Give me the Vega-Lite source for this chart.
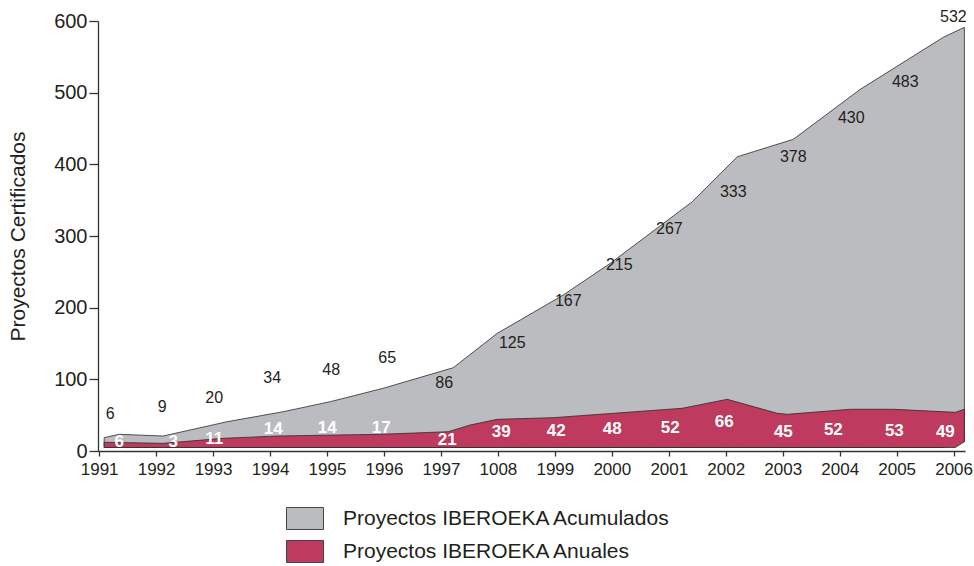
{
  "$schema": "https://vega.github.io/schema/vega-lite/v6.json",
  "width": 867,
  "height": 430,
  "autosize": {"type": "none"},
  "padding": {"left": 98, "top": 21, "right": 9, "bottom": 115},
  "background": "white",
  "config": {
    "view": {"stroke": null},
    "font": "Liberation Sans",
    "axis": {"labelFont": "Liberation Sans", "titleFont": "Liberation Sans", "labelColor": "#231f20", "titleColor": "#231f20", "domainColor": "#333333", "tickColor": "#333333", "grid": false}
  },
  "datasets": {
    "areas": [
      {"serie": "Proyectos IBEROEKA Acumulados", "year": 1991.088, "top": 18.6, "base": 4.9},
      {"serie": "Proyectos IBEROEKA Acumulados", "year": 1991.351, "top": 23.3, "base": 4.9},
      {"serie": "Proyectos IBEROEKA Acumulados", "year": 1992.124, "top": 20.9, "base": 4.9},
      {"serie": "Proyectos IBEROEKA Acumulados", "year": 1993.248, "top": 40.9, "base": 4.9},
      {"serie": "Proyectos IBEROEKA Acumulados", "year": 1994.231, "top": 54.8, "base": 4.9},
      {"serie": "Proyectos IBEROEKA Acumulados", "year": 1995.056, "top": 68.8, "base": 4.9},
      {"serie": "Proyectos IBEROEKA Acumulados", "year": 1995.987, "top": 87.5, "base": 4.9},
      {"serie": "Proyectos IBEROEKA Acumulados", "year": 1997.216, "top": 116.2, "base": 4.9},
      {"serie": "Proyectos IBEROEKA Acumulados", "year": 1997.989, "top": 164.2, "base": 4.9},
      {"serie": "Proyectos IBEROEKA Acumulados", "year": 1998.393, "top": 182.8, "base": 4.9},
      {"serie": "Proyectos IBEROEKA Acumulados", "year": 1999.148, "top": 217.7, "base": 4.9},
      {"serie": "Proyectos IBEROEKA Acumulados", "year": 1999.973, "top": 261.9, "base": 4.9},
      {"serie": "Proyectos IBEROEKA Acumulados", "year": 2000.675, "top": 303.8, "base": 4.9},
      {"serie": "Proyectos IBEROEKA Acumulados", "year": 2001.413, "top": 347.9, "base": 4.9},
      {"serie": "Proyectos IBEROEKA Acumulados", "year": 2002.203, "top": 410.6, "base": 4.9},
      {"serie": "Proyectos IBEROEKA Acumulados", "year": 2003.186, "top": 434.9, "base": 4.9},
      {"serie": "Proyectos IBEROEKA Acumulados", "year": 2004.362, "top": 504.7, "base": 4.9},
      {"serie": "Proyectos IBEROEKA Acumulados", "year": 2005.82, "top": 577.3, "base": 4.9},
      {"serie": "Proyectos IBEROEKA Acumulados", "year": 2006.189, "top": 591.2, "base": 13},
      {"serie": "Proyectos IBEROEKA Anuales", "year": 1991.088, "top": 12.1, "base": 4.9},
      {"serie": "Proyectos IBEROEKA Anuales", "year": 1992.124, "top": 10.7, "base": 4.9},
      {"serie": "Proyectos IBEROEKA Anuales", "year": 1993.177, "top": 17.7, "base": 4.9},
      {"serie": "Proyectos IBEROEKA Anuales", "year": 1994.126, "top": 20.9, "base": 4.9},
      {"serie": "Proyectos IBEROEKA Anuales", "year": 1995.934, "top": 23.3, "base": 4.9},
      {"serie": "Proyectos IBEROEKA Anuales", "year": 1997.128, "top": 26.9, "base": 4.9},
      {"serie": "Proyectos IBEROEKA Anuales", "year": 1997.514, "top": 36.3, "base": 4.9},
      {"serie": "Proyectos IBEROEKA Anuales", "year": 1997.989, "top": 44.2, "base": 4.9},
      {"serie": "Proyectos IBEROEKA Anuales", "year": 1998.972, "top": 46.5, "base": 4.9},
      {"serie": "Proyectos IBEROEKA Anuales", "year": 2001.237, "top": 59.6, "base": 4.9},
      {"serie": "Proyectos IBEROEKA Anuales", "year": 2002.027, "top": 72.1, "base": 4.9},
      {"serie": "Proyectos IBEROEKA Anuales", "year": 2002.905, "top": 52.6, "base": 4.9},
      {"serie": "Proyectos IBEROEKA Anuales", "year": 2003.081, "top": 51.2, "base": 4.9},
      {"serie": "Proyectos IBEROEKA Anuales", "year": 2004.187, "top": 58.2, "base": 4.9},
      {"serie": "Proyectos IBEROEKA Anuales", "year": 2004.942, "top": 58.2, "base": 4.9},
      {"serie": "Proyectos IBEROEKA Anuales", "year": 2006.03, "top": 54.0, "base": 4.9},
      {"serie": "Proyectos IBEROEKA Anuales", "year": 2006.189, "top": 58.2, "base": 13}
    ],
    "darkLabels": [
      {"year": 1991.193, "pos": 51.6, "label": "6"},
      {"year": 1992.106, "pos": 61.4, "label": "9"},
      {"year": 1993.019, "pos": 73.9, "label": "20"},
      {"year": 1994.038, "pos": 101.8, "label": "34"},
      {"year": 1995.074, "pos": 113.0, "label": "48"},
      {"year": 1996.057, "pos": 129.8, "label": "65"},
      {"year": 1997.058, "pos": 94.9, "label": "86"},
      {"year": 1998.252, "pos": 150.7, "label": "125"},
      {"year": 1999.235, "pos": 209.3, "label": "167"},
      {"year": 2000.131, "pos": 259.5, "label": "215"},
      {"year": 2001.011, "pos": 309.8, "label": "267"},
      {"year": 2002.132, "pos": 361.4, "label": "333"},
      {"year": 2003.186, "pos": 410.2, "label": "378"},
      {"year": 2004.204, "pos": 464.6, "label": "430"},
      {"year": 2005.152, "pos": 514.9, "label": "483"},
      {"year": 2005.995, "pos": 605.6, "label": "532"}
    ],
    "whiteLabels": [
      {"year": 1991.351, "pos": 12.6, "label": "6"},
      {"year": 1992.299, "pos": 12.6, "label": "3"},
      {"year": 1993.019, "pos": 16.7, "label": "11"},
      {"year": 1994.055, "pos": 30.7, "label": "14"},
      {"year": 1995.004, "pos": 32.1, "label": "14"},
      {"year": 1995.952, "pos": 32.1, "label": "17"},
      {"year": 1997.111, "pos": 15.3, "label": "21"},
      {"year": 1998.059, "pos": 26.5, "label": "39"},
      {"year": 1999.025, "pos": 27.9, "label": "42"},
      {"year": 2000.008, "pos": 30.7, "label": "48"},
      {"year": 2001.027, "pos": 32.1, "label": "52"},
      {"year": 2001.975, "pos": 40.5, "label": "66"},
      {"year": 2003.011, "pos": 26.5, "label": "45"},
      {"year": 2003.889, "pos": 29.3, "label": "52"},
      {"year": 2004.96, "pos": 27.9, "label": "53"},
      {"year": 2005.855, "pos": 26.5, "label": "49"}
    ]
  },
  "layer": [
    {
      "data": {"name": "areas"},
      "mark": {"type": "area", "stroke": "#2b2b2b", "strokeWidth": 0.8, "opacity": 1, "interpolate": "linear"},
      "encoding": {
        "x": {
          "field": "year", "type": "quantitative",
          "scale": {"domain": [1990.98, 2006.2], "nice": false, "zero": false},
          "axis": {
            "title": null,
            "values": [1991, 1992, 1993, 1994, 1995, 1996, 1997, 1998, 1999, 2000, 2001, 2002, 2003, 2004, 2005, 2006],
            "format": "d",
            "labelExpr": "datum.value == 1998 ? '1008' : datum.label",
            "labelFontSize": 17,
            "tickSize": 5,
            "labelPadding": 5,
            "domainWidth": 1.3,
            "tickWidth": 1.3,
            "labelFlush": false,
            "labelOverlap": false
          }
        },
        "y": {
          "field": "top", "type": "quantitative", "stack": null,
          "scale": {"domain": [0, 600], "nice": false},
          "axis": {
            "title": "Proyectos Certificados",
            "titleFontSize": 21,
            "titleFontWeight": "normal",
            "titlePadding": 25,
            "values": [0, 100, 200, 300, 400, 500, 600],
            "labelFontSize": 20,
            "tickSize": 9,
            "labelPadding": 2,
            "domainWidth": 1.3,
            "tickWidth": 1.3
          }
        },
        "y2": {"field": "base"},
        "color": {
          "field": "serie", "type": "nominal",
          "scale": {"domain": ["Proyectos IBEROEKA Acumulados", "Proyectos IBEROEKA Anuales"], "range": ["#bbbcc0", "#be3a5e"]},
          "legend": {
            "title": null,
            "orient": "none",
            "legendX": 188,
            "legendY": 478.5,
            "direction": "vertical",
            "padding": 0,
            "symbolType": "M-1,-0.595H1V0.595H-1Z",
            "symbolSize": 1369,
            "symbolStrokeColor": "#444444",
            "symbolStrokeWidth": 1,
            "symbolOpacity": 1,
            "labelFontSize": 21,
            "labelColor": "#231f20",
            "labelOffset": 19,
            "rowPadding": -2.5,
            "labelLimit": 500
          }
        }
      }
    },
    {
      "data": {"name": "darkLabels"},
      "mark": {"type": "text", "fontSize": 16, "color": "#231f20", "align": "center", "baseline": "middle"},
      "encoding": {
        "x": {"field": "year", "type": "quantitative"},
        "y": {"field": "pos", "type": "quantitative"},
        "text": {"field": "label"}
      }
    },
    {
      "data": {"name": "whiteLabels"},
      "mark": {"type": "text", "fontSize": 17, "fontWeight": "bold", "color": "white", "align": "center", "baseline": "middle"},
      "encoding": {
        "x": {"field": "year", "type": "quantitative"},
        "y": {"field": "pos", "type": "quantitative"},
        "text": {"field": "label"}
      }
    }
  ]
}
